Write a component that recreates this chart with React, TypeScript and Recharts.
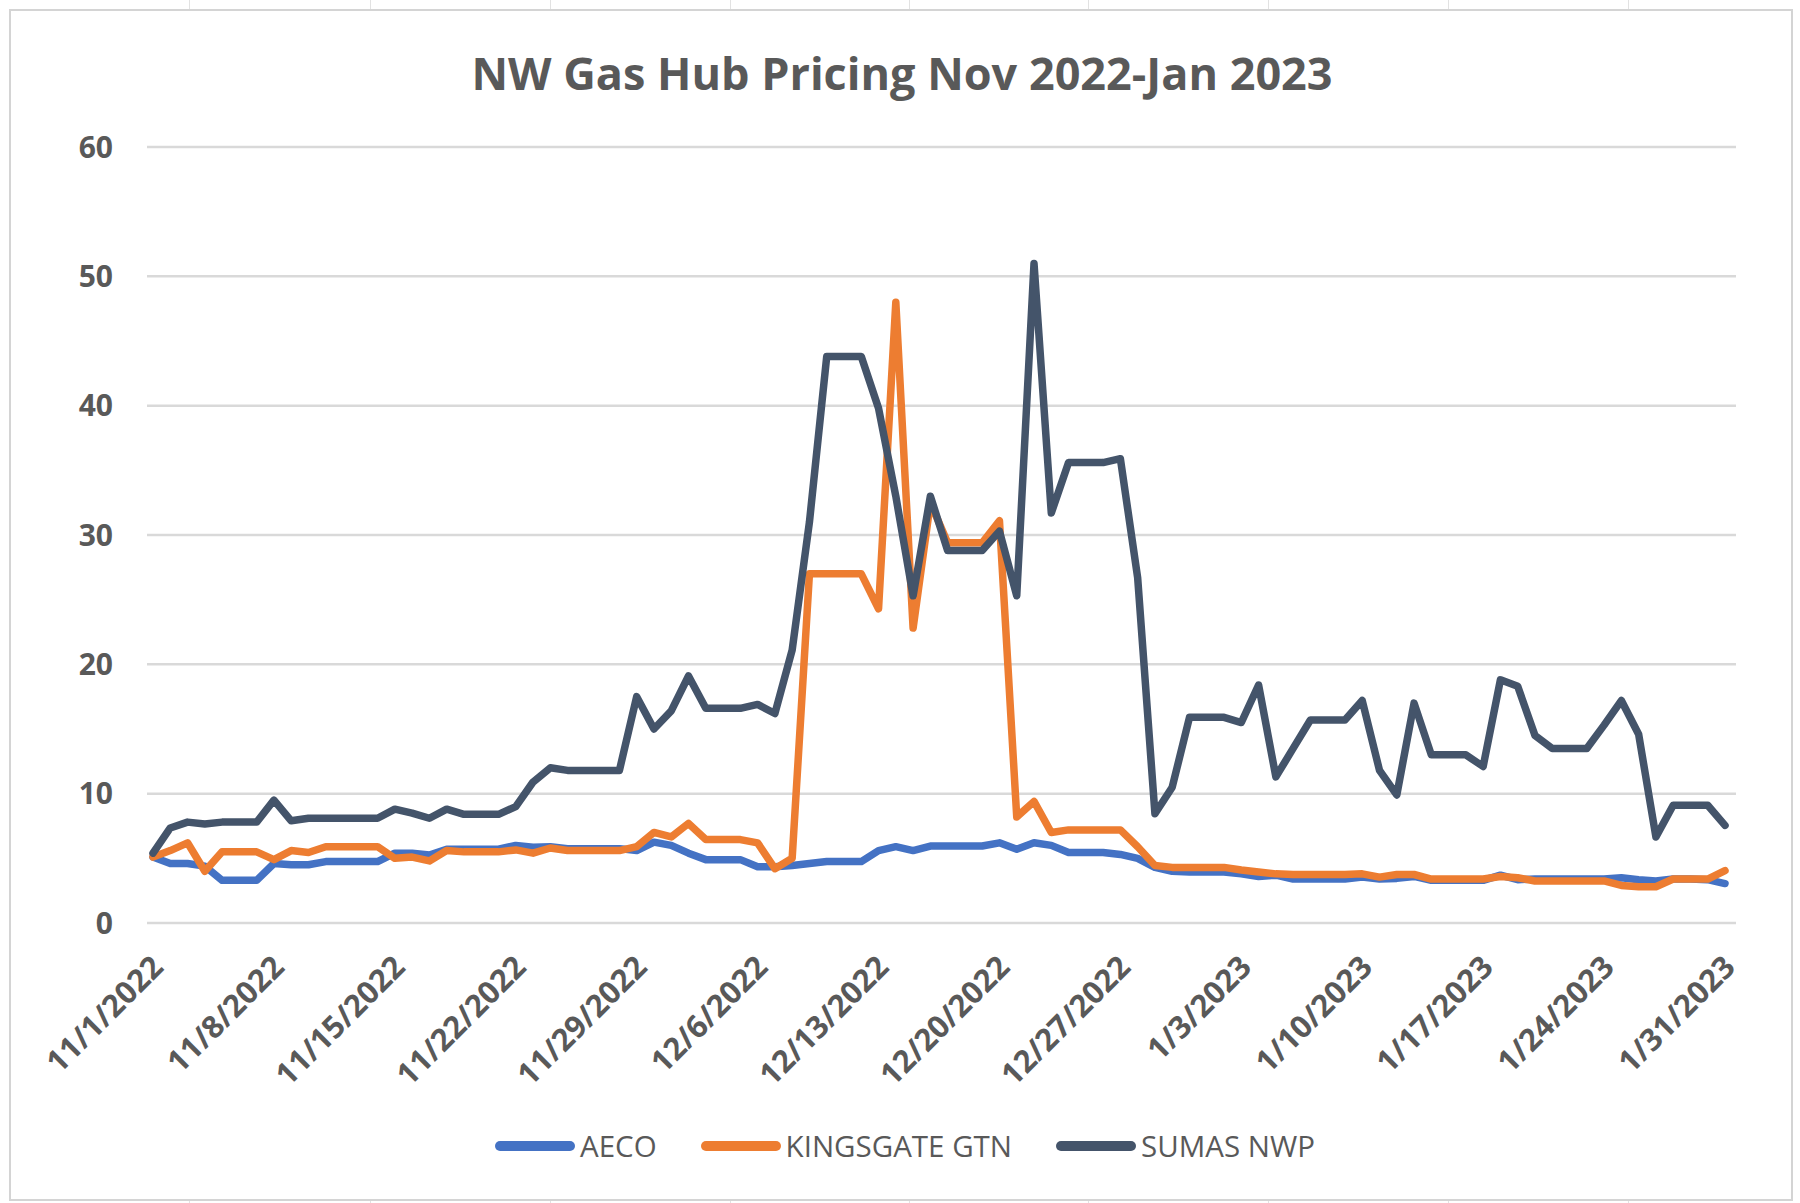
import { CartesianGrid, Line, LineChart, XAxis, YAxis } from 'recharts'

const AECO = [
  5.1, 4.6, 4.6, 4.4, 3.3, 3.3, 3.3, 4.6, 4.5, 4.5,
  4.75, 4.75, 4.75, 4.75, 5.4, 5.4, 5.25, 5.7, 5.7, 5.7,
  5.7, 6.0, 5.85, 5.9, 5.75, 5.75, 5.75, 5.75, 5.6, 6.25,
  6.0, 5.4, 4.9, 4.9, 4.9, 4.35, 4.35, 4.45, 4.6, 4.75,
  4.75, 4.75, 5.6, 5.9, 5.6, 5.95, 5.95, 5.95, 5.95, 6.2,
  5.7, 6.2, 6.0, 5.45, 5.45, 5.45, 5.3, 5.0, 4.3, 4.0,
  3.95, 3.95, 3.95, 3.8, 3.6, 3.7, 3.4, 3.4, 3.4, 3.4,
  3.55, 3.4, 3.45, 3.6, 3.3, 3.3, 3.3, 3.3, 3.7, 3.35,
  3.4, 3.4, 3.4, 3.4, 3.4, 3.5, 3.35, 3.25, 3.4, 3.4,
  3.35, 3.05,
]

const KINGSGATE_GTN = [
  5.1, 5.6, 6.2, 4.0, 5.5, 5.5, 5.5, 4.9, 5.6, 5.45,
  5.9, 5.9, 5.9, 5.9, 5.0, 5.1, 4.8, 5.6, 5.5, 5.5,
  5.5, 5.65, 5.4, 5.8, 5.6, 5.6, 5.6, 5.6, 5.9, 7.0,
  6.65, 7.7, 6.45, 6.45, 6.45, 6.2, 4.2, 5.0, 27.0, 27.0,
  27.0, 27.0, 24.3, 48.0, 22.8, 32.5, 29.4, 29.4, 29.4, 31.1,
  8.2, 9.4, 7.0, 7.2, 7.2, 7.2, 7.2, 5.9, 4.45, 4.3,
  4.3, 4.3, 4.3, 4.1, 3.95, 3.8, 3.75, 3.75, 3.75, 3.75,
  3.8, 3.55, 3.75, 3.75, 3.4, 3.4, 3.4, 3.4, 3.6, 3.5,
  3.25, 3.25, 3.25, 3.25, 3.25, 2.9, 2.8, 2.8, 3.4, 3.4,
  3.4, 4.05,
]

const SUMAS_NWP = [
  5.4, 7.35, 7.8, 7.65, 7.8, 7.8, 7.8, 9.5, 7.9, 8.1,
  8.1, 8.1, 8.1, 8.1, 8.8, 8.5, 8.1, 8.8, 8.4, 8.4,
  8.4, 9.0, 10.9, 12.0, 11.8, 11.8, 11.8, 11.8, 17.5, 15.0,
  16.4, 19.1, 16.6, 16.6, 16.6, 16.9, 16.2, 21.1, 31.0, 43.8,
  43.8, 43.8, 39.8, 33.0, 25.3, 33.0, 28.8, 28.8, 28.8, 30.3,
  25.3, 51.0, 31.7, 35.6, 35.6, 35.6, 35.9, 26.7, 8.45, 10.5,
  15.9, 15.9, 15.9, 15.5, 18.4, 11.3, 13.5, 15.7, 15.7, 15.7,
  17.2, 11.8, 9.9, 17.0, 13.0, 13.0, 13.0, 12.1, 18.8, 18.3,
  14.5, 13.5, 13.5, 13.5, 15.3, 17.2, 14.6, 6.65, 9.1, 9.1,
  9.1, 7.55,
]

const Y_TICKS = [0, 10, 20, 30, 40, 50, 60]

const SERIES = [
  { key: 'aeco', label: 'AECO', color: '#4472C4' },
  { key: 'kingsgate', label: 'KINGSGATE GTN', color: '#ED7D31' },
  { key: 'sumas', label: 'SUMAS NWP', color: '#44546A' },
]

// daily labels 11/1/2022 .. 1/31/2023, formatted like Excel's m/d/yyyy
function buildDates(count: number): string[] {
  const start = Date.UTC(2022, 10, 1)
  const out: string[] = []
  for (let i = 0; i < count; i += 1) {
    const d = new Date(start + i * 86400000)
    out.push(`${d.getUTCMonth() + 1}/${d.getUTCDate()}/${d.getUTCFullYear()}`)
  }
  return out
}

const DATES = buildDates(AECO.length)

const rows = DATES.map((date, i) => ({
  date,
  aeco: AECO[i],
  kingsgate: KINGSGATE_GTN[i],
  sumas: SUMAS_NWP[i],
}))

const TEXT = '#595959'
const FONT = '"Open Sans", "Liberation Sans", sans-serif'

function DateTick(props: any) {
  const { x, y, payload } = props
  return (
    <g transform={`translate(${x + 12},${y + 38})`}>
      <text transform="rotate(-45)" textAnchor="end" fill={TEXT} fontSize={31} fontWeight={700} fontFamily={FONT}>
        {payload.value}
      </text>
    </g>
  )
}

function ChartLegend() {
  return (
    <div
      style={{
        position: 'absolute',
        left: 0,
        top: 1125,
        width: 1800,
        display: 'flex',
        justifyContent: 'center',
        alignItems: 'center',
        paddingLeft: 54,
        boxSizing: 'border-box',
        fontFamily: FONT,
      }}
    >
      {SERIES.map((s) => (
        <div key={s.key} style={{ display: 'flex', alignItems: 'center', marginRight: 44 }}>
          <span style={{ display: 'inline-block', width: 80, height: 10, borderRadius: 5, background: s.color }} />
          <span style={{ marginLeft: 5, fontSize: 29.5, color: TEXT }}>{s.label}</span>
        </div>
      ))}
    </div>
  )
}

const CELL_X = [189, 370, 550, 730, 909, 1088, 1268, 1448, 1628]

export default function App() {
  return (
    <div style={{ position: 'absolute', left: 0, top: 0, width: 1800, height: 1203, background: '#fff', overflow: 'hidden' }}>
      {CELL_X.map((cx) => (
        <div key={`t${cx}`} style={{ position: 'absolute', left: cx, top: 0, width: 1, height: 9, background: '#e2e2e2' }} />
      ))}
      {CELL_X.map((cx) => (
        <div key={`b${cx}`} style={{ position: 'absolute', left: cx, top: 1200, width: 1, height: 3, background: '#e2e2e2' }} />
      ))}
      <div
        style={{
          position: 'absolute',
          left: 9,
          top: 9,
          width: 1780,
          height: 1188,
          border: '2px solid #d4d4d4',
        }}
      />
      <div
        style={{
          position: 'absolute',
          left: 0,
          top: 50,
          width: 1804,
          textAlign: 'center',
          fontFamily: FONT,
          fontWeight: 700,
          fontSize: 45,
          color: TEXT,
          lineHeight: '46px',
        }}
      >
        NW Gas Hub Pricing Nov 2022-Jan 2023
      </div>
      <div style={{ position: 'absolute', left: 0, top: 0 }}>
        <LineChart width={1800} height={1203} data={rows} margin={{ top: 147, right: 64, bottom: 130, left: 0 }}>
          <CartesianGrid vertical={false} stroke="#d9d9d9" strokeWidth={2.5} />
          <XAxis
            dataKey="date"
            interval={6}
            padding={{ left: 6, right: 11 }}
            axisLine={false}
            tickLine={false}
            height={150}
            tick={<DateTick />}
          />
          <YAxis
            domain={[0, 60]}
            ticks={Y_TICKS}
            axisLine={false}
            tickLine={false}
            width={147}
            tickMargin={28}
            tick={{ fill: TEXT, fontSize: 30, fontWeight: 700, fontFamily: FONT }}
          />
          {SERIES.map((s) => (
            <Line
              key={s.key}
              type="linear"
              dataKey={s.key}
              name={s.label}
              stroke={s.color}
              strokeWidth={7.5}
              strokeLinejoin="round"
              strokeLinecap="round"
              dot={false}
              isAnimationActive={false}
            />
          ))}
        </LineChart>
      </div>
      <ChartLegend />
    </div>
  )
}
